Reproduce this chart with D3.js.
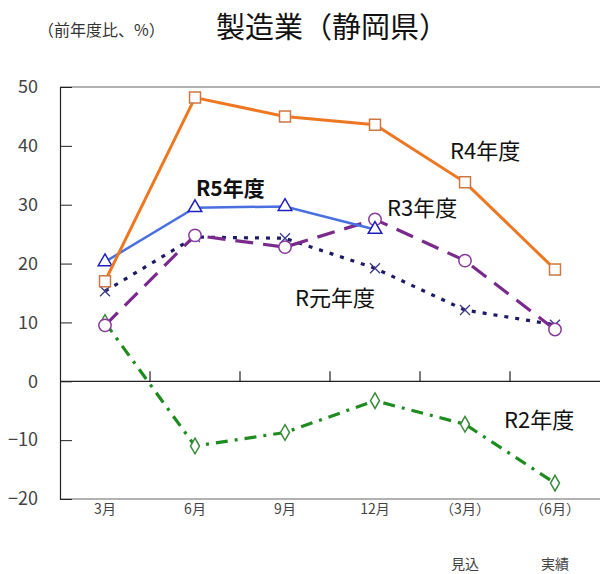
<!DOCTYPE html>
<html><head><meta charset="utf-8">
<script src="https://cdn.jsdelivr.net/npm/d3@7"></script>
<style>body{margin:0;background:#fff}svg{display:block}text{font-family:"Noto Sans CJK JP","Noto Sans",sans-serif}</style>
</head><body>
<script>
const categories = ["3月","6月","9月","12月","(3月)","(6月)"];
const subLabels = ["","","","","見込","実績"];
const yTicks = [-20,-10,0,10,20,30,40,50];
const r4 = [17.0,48.2,45.0,43.6,33.8,19.0];
const r5 = [20.3,29.5,29.7,25.8];
const r3 = [9.5,24.8,22.8,27.5,20.5,8.8];
const rGan = [15.3,24.5,24.3,19.2,12.1,9.6];
const r2 = [10.0,-11.0,-8.7,-3.3,-7.3,-17.3];

const W=600,H=574;
const svg=d3.select("body").append("svg").attr("width",W).attr("height",H);
const x=d3.scaleBand().domain(categories).range([60,600]);
const y=d3.scaleLinear().domain([-20,50]).range([499,87]);
const cx=c=>x(c)+x.bandwidth()/2;

// frame
svg.append("line").attr("x1",60).attr("x2",600).attr("y1",y(50)).attr("y2",y(50)).attr("stroke","#999").attr("stroke-width",1.5);
svg.append("line").attr("x1",60).attr("x2",600).attr("y1",y(-20)).attr("y2",y(-20)).attr("stroke","#999").attr("stroke-width",1.5);
// y axis
const yAxis=d3.axisLeft(y).tickValues(yTicks).tickSize(-12).tickPadding(20).tickFormat(d3.format("d"));
const ya=svg.append("g").attr("transform","translate(60,0)").call(yAxis);
ya.select(".domain").attr("stroke","#222").attr("stroke-width",1.2);
ya.selectAll(".tick line").attr("stroke","#222");
ya.selectAll("text").attr("font-size",18).attr("fill","#444").attr("font-family","Liberation Sans, Arial, sans-serif").attr("dx",-2);
// zero line with ticks at band boundaries
svg.append("line").attr("x1",60).attr("x2",600).attr("y1",y(0)).attr("y2",y(0)).attr("stroke","#222").attr("stroke-width",1.2);
categories.slice(1).forEach(c=>{
  svg.append("line").attr("x1",x(c)).attr("x2",x(c)).attr("y1",y(0)).attr("y2",y(0)-10).attr("stroke","#222").attr("stroke-width",1.2);
});
// x labels
categories.forEach((c,i)=>{
  const t=c.replace("(","（").replace(")","）");
  svg.append("text").attr("x",cx(c)).attr("y",514).attr("text-anchor","middle").attr("font-size",14).attr("fill","#444").text(t);
  if(subLabels[i]) svg.append("text").attr("x",cx(c)).attr("y",569).attr("text-anchor","middle").attr("font-size",14).attr("fill","#444").text(subLabels[i]);
});

function series(data,color,width,dash,marker,mcolor){
  const pts=data.map((v,i)=>[cx(categories[i]),y(v)]);
  svg.append("path").attr("d",d3.line()(pts)).attr("fill","none").attr("stroke",color).attr("stroke-width",width).attr("stroke-dasharray",dash);
  const g=svg.append("g");
  pts.forEach(p=>{
    if(marker==="x"){
      g.append("path").attr("d",`M${p[0]-5},${p[1]-5}L${p[0]+5},${p[1]+5}M${p[0]-5},${p[1]+5}L${p[0]+5},${p[1]-5}`).attr("stroke",mcolor).attr("stroke-width",1.3);
      return;
    }
    const sym=d3.symbol().type(marker.type).size(marker.size);
    g.append("path").attr("d",sym()).attr("transform",`translate(${p[0]},${p[1]})`).attr("fill","#fff").attr("stroke",mcolor).attr("stroke-width",1.5);
  });
}
series(r2,"#1e8c1e",3.2,"12,7,3,7",{type:d3.symbolDiamond,size:70},"#3a8a3a");
series(rGan,"#1f1a66",3.2,"4,7","x","#3b3b8a");
series(r3,"#7a2a8c",3.2,"18,10",{type:d3.symbolCircle,size:120},"#8a3a9a");
series(r5,"#4a70e0",2.5,"",{type:d3.symbolTriangle,size:80},"#2020c0");
series(r4,"#ee7722",3,"",{type:d3.symbolSquare,size:120},"#cc7744");

// series labels
const lab=(t,xx,yy,bold)=>svg.append("text").attr("x",xx).attr("y",yy).attr("font-size",bold?21:22).attr("font-weight",bold?"bold":"normal").attr("fill","#111").text(t);
lab("R4年度",450,159);
lab("R5年度",196,196,true);
lab("R3年度",387,216);
lab("R元年度",295,306);
lab("R2年度",504,428);

// titles
svg.append("text").attr("x",38).attr("y",36).attr("font-size",16).attr("fill","#333").text("（前年度比、%）");
svg.append("text").attr("x",216).attr("y",38).attr("font-size",29).attr("fill","#111").text("製造業（静岡県）");
</script>
</body></html>
